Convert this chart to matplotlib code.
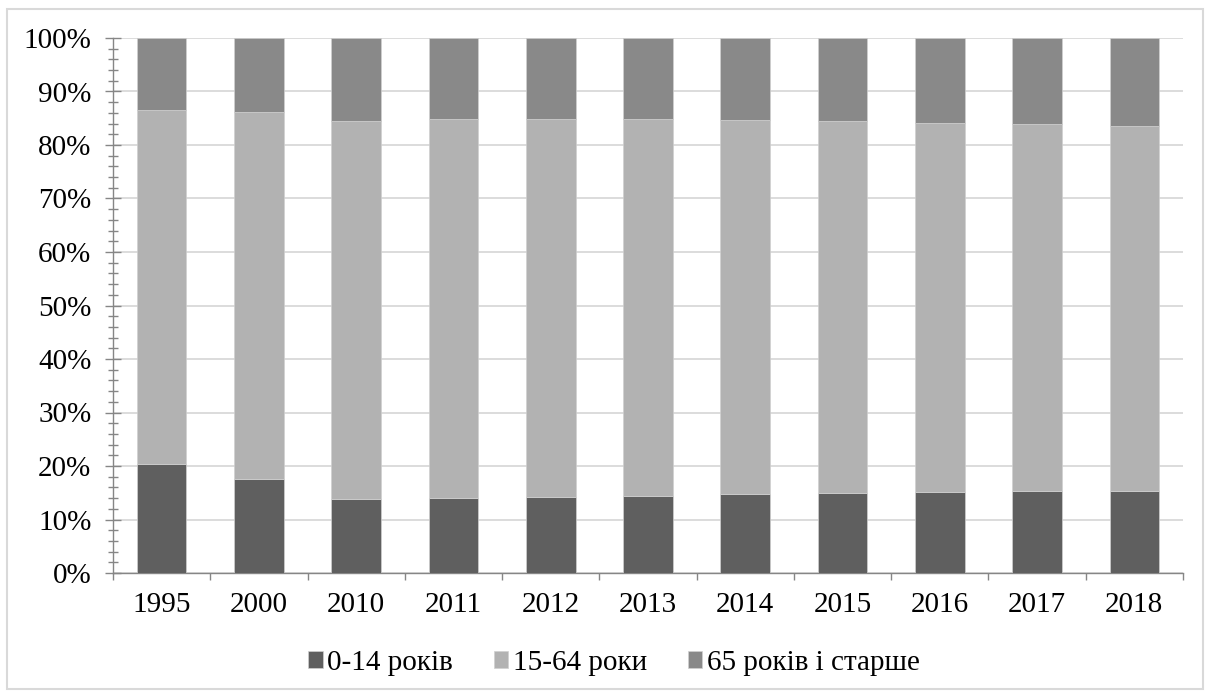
import numpy as np
import matplotlib.pyplot as plt
from matplotlib.patches import Rectangle
from matplotlib.ticker import MultipleLocator, PercentFormatter

plt.rcParams['font.family'] = ['Liberation Serif', 'DejaVu Serif']

years = ["1995", "2000", "2010", "2011", "2012", "2013", "2014", "2015", "2016", "2017", "2018"]
age_0_14 = [20.3, 17.6, 13.9, 14.1, 14.2, 14.4, 14.7, 14.9, 15.1, 15.3, 15.3]
age_65_plus = [13.4, 13.8, 15.5, 15.1, 15.1, 15.1, 15.25, 15.5, 15.8, 16.1, 16.5]
age_15_64 = [100 - a - b for a, b in zip(age_0_14, age_65_plus)]

labels = ["0-14 років", "15-64 роки", "65 років і старше"]
colors = ["#5f5f5f", "#b2b2b2", "#898989"]

fig = plt.figure(figsize=(12.11, 6.93), dpi=100)
ax = fig.add_axes([113/1211, 120/693, 1070/1211, 535/693])

x = np.arange(len(years))
bottom = np.zeros(len(years))
for vals, lab, col in zip([age_0_14, age_15_64, age_65_plus], labels, colors):
    ax.bar(x, vals, width=0.51, bottom=bottom, color=col, label=lab,
           edgecolor="#d0d0d0", linewidth=0.5, zorder=3)
    bottom += np.array(vals)

ax.set_ylim(0, 100)
ax.set_xlim(-0.5, len(years) - 0.5)
ax.yaxis.set_major_locator(MultipleLocator(10))
ax.yaxis.set_minor_locator(MultipleLocator(2))
ax.yaxis.set_major_formatter(PercentFormatter(decimals=0))
ax.grid(axis="y", which="major", color="#d9d9d9", linewidth=1.3, zorder=0)

ax.set_xticks(np.arange(-0.5, len(years)), labels=[""] * (len(years) + 1))
ax.set_xticks(x, minor=True)
ax.set_xticklabels(years, minor=True)

ax.tick_params(axis="y", which="major", direction="inout", length=11, width=1,
               color="#868686", labelsize=21, pad=10)
ax.tick_params(axis="y", which="minor", direction="inout", length=7, width=1,
               color="#868686")
ax.tick_params(axis="x", which="major", direction="out", length=5, width=1,
               color="#868686")
ax.tick_params(axis="x", which="minor", direction="in", length=4.5, width=1,
               color="#868686", labelsize=21, pad=14)

for s in ["top", "right"]:
    ax.spines[s].set_visible(False)
for s in ["left", "bottom"]:
    ax.spines[s].set_color("#868686")
    ax.spines[s].set_linewidth(1)

fig.legend(loc="center", bbox_to_anchor=(614/1211, 1 - 663/693), ncol=3,
           frameon=False, fontsize=21, handlelength=0.5, handleheight=0.5,
           handletextpad=0.15, columnspacing=1.4)

fig.patches.append(Rectangle((7/1211, 4/693), 1196/1211, 680/693,
                             transform=fig.transFigure, fill=False,
                             edgecolor="#d9d9d9", linewidth=1.5))

fig.savefig("out.png", dpi=100)
